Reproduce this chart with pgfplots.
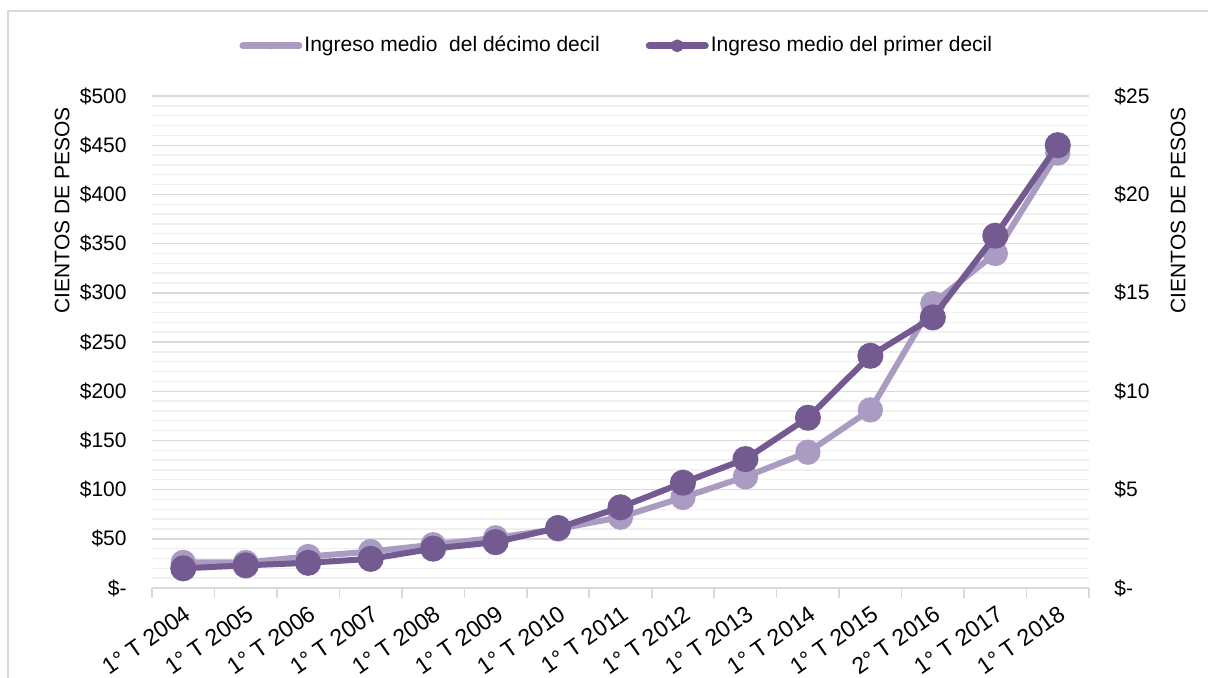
\documentclass[border=0pt]{standalone}
\usepackage{pgfplots}
\pgfplotsset{compat=1.18}
\usepackage{fontspec}
\setmainfont{Liberation Sans}
\definecolor{dark}{RGB}{115,91,146}
\definecolor{light}{RGB}{169,155,194}
\definecolor{gmaj}{RGB}{217,217,217}
\definecolor{gmin}{RGB}{240,240,240}
\begin{document}
\fontsize{10.5}{12.5}\selectfont
\begin{tikzpicture}
\useasboundingbox (-76pt,-45pt) rectangle (528pt,294pt);
\draw[gmaj,line width=0.8pt] (-72pt,-45pt) -- (-72pt,288.5pt) -- (528pt,288.5pt);
\pgfplotsset{
  base/.style={
    at={(0,0)}, anchor=south west,
    scale only axis, width=468.5pt, height=246pt,
    xmin=-0.5, xmax=14.5, ymin=0,
    clip=false,
    /pgf/number format/assume math mode=true,
    tick label style={font=\fontsize{10.5}{12.5}\selectfont},
    label style={font=\fontsize{10.5}{12.5}\selectfont},
    major tick length=0pt, minor tick length=0pt,
  }
}
\begin{axis}[base,
  ymax=500,
  axis x line*=bottom, axis y line*=left,
  y axis line style={draw=none},
  x axis line style={gmaj, line width=0.8pt},
  xtick={0,...,14},
  xticklabels={1° T 2004,1° T 2005,1° T 2006,1° T 2007,1° T 2008,1° T 2009,1° T 2010,1° T 2011,1° T 2012,1° T 2013,1° T 2014,1° T 2015,2° T 2016,1° T 2017,1° T 2018},
  xticklabel style={rotate=35, anchor=north east, yshift=-3pt, xshift=-1pt, font=\fontsize{11.6}{13}\selectfont},
  extra x ticks={-0.5,0.5,...,14.5},
  extra x tick labels={},
  extra x tick style={major tick length=5pt, tick align=outside, xmajorgrids=false, tick style={gmaj, line width=0.8pt}},
  ytick={0,50,...,500},
  yticklabels={\$-,\$50,\$100,\$150,\$200,\$250,\$300,\$350,\$400,\$450,\$500},
  yticklabel style={xshift=-9pt},
  minor ytick={10,20,30,40,60,70,80,90,110,120,130,140,160,170,180,190,210,220,230,240,260,270,280,290,310,320,330,340,360,370,380,390,410,420,430,440,460,470,480,490},
  ymajorgrids, yminorgrids,
  major grid style={gmaj, line width=0.7pt},
  minor grid style={gmin, line width=0.7pt},
  ylabel={CIENTOS DE PESOS},
  ylabel style={at={(axis description cs:-0.096,0.768)}, anchor=center},
]
\addplot[light, line width=3pt, mark=*, mark size=4.8pt, mark options={solid, fill=light, draw=light}]
coordinates {(0,26) (1,26) (2,32) (3,37) (4,44) (5,51) (6,60) (7,72) (8,92) (9,113) (10,138) (11,181) (12,289) (13,340) (14,442)};
\end{axis}
\begin{axis}[base,
  ymax=25,
  axis x line=none, axis y line*=right,
  y axis line style={draw=none},
  ytick={0,5,...,25},
  yticklabels={\$-,\$5,\$10,\$15,\$20,\$25},
  yticklabel style={xshift=9pt},
  ylabel={CIENTOS DE PESOS},
  ylabel style={at={(axis description cs:1.095,0.768)}, anchor=center},
  legend style={at={(axis description cs:0.496,1.102)}, anchor=center, draw=none, fill=none,
    legend columns=2, font=\fontsize{10.5}{12.5}\selectfont,
    /tikz/every even column/.append style={column sep=22pt},
    inner sep=0pt, nodes={inner sep=1pt}},
  legend cell align=left,
  legend image code/.code={
    \draw[#1, line width=3.5pt, line cap=round] (0pt,0pt) -- (28pt,0pt);
    \fill[#1] (14pt,0pt) circle (1.6pt);
  },
]
\addlegendimage{light}
\addlegendentry{Ingreso medio\ \ del décimo decil}
\addplot[dark, line width=3pt, mark=*, mark size=5pt, mark options={solid, fill=dark, draw=dark}]
coordinates {(0,1.0) (1,1.15) (2,1.28) (3,1.48) (4,2.0) (5,2.33) (6,3.05) (7,4.1) (8,5.35) (9,6.55) (10,8.65) (11,11.8) (12,13.75) (13,17.9) (14,22.5)};
\addlegendentry{Ingreso medio del primer decil}
\end{axis}
\end{tikzpicture}
\end{document}
